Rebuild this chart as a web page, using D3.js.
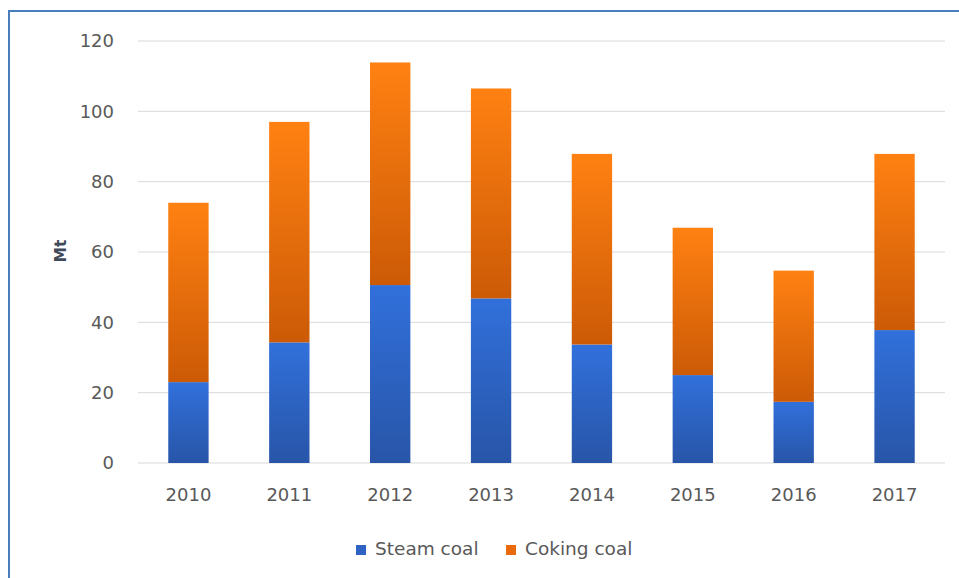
<!DOCTYPE html>
<html><head><meta charset="utf-8">
<script src="https://cdn.jsdelivr.net/npm/d3@7"></script>
<style>body{margin:0;background:#fff;} svg{display:block;}</style>
</head><body>
<svg id="c" width="959" height="578"></svg>
<script>
const years = ["2010","2011","2012","2013","2014","2015","2016","2017"];
const steamCoal = [23, 34.3, 50.6, 46.8, 33.7, 25, 17.4, 37.8];
const cokingCoal = [51, 62.7, 63.3, 59.7, 54.2, 41.9, 37.3, 50.1];
const yTicks = [0, 20, 40, 60, 80, 100, 120];
const seriesNames = ["Steam coal", "Coking coal"];

const svg = d3.select("#c");
const font = "'DejaVu Sans', sans-serif";
// border
svg.append("path").attr("d","M9,578 L9,11 L959,11").attr("fill","none").attr("stroke","#4a7ebb").attr("stroke-width",2);

const defs = svg.append("defs");
const gb = defs.append("linearGradient").attr("id","gBlue").attr("x1",0).attr("y1",0).attr("x2",0).attr("y2",1);
gb.append("stop").attr("offset","0%").attr("stop-color","#3170db");
gb.append("stop").attr("offset","100%").attr("stop-color","#2855a8");
const go = defs.append("linearGradient").attr("id","gOrange").attr("x1",0).attr("y1",0).attr("x2",0).attr("y2",1);
go.append("stop").attr("offset","0%").attr("stop-color","#ff8112");
go.append("stop").attr("offset","100%").attr("stop-color","#cc5a06");

const x = d3.scaleBand().domain(years).range([138, 945]).paddingInner(0.6).paddingOuter(0.3);
const y = d3.scaleLinear().domain([0, 120]).range([463, 41]);

// grid
svg.append("g").selectAll("line").data(yTicks).join("line")
  .attr("x1",138).attr("x2",945).attr("y1",d=>y(d)).attr("y2",d=>y(d))
  .attr("stroke","#d9d9d9").attr("stroke-width",1);

// y axis labels
const ya = svg.append("g").attr("transform","translate(138,0)")
  .call(d3.axisLeft(y).tickValues(yTicks).tickSize(0).tickPadding(24));
ya.select(".domain").remove();
ya.selectAll("text").attr("font-family",font).attr("font-size",18).attr("fill","#595959");

// x axis labels
const xa = svg.append("g").attr("transform","translate(0,463)")
  .call(d3.axisBottom(x).tickSize(0).tickPadding(25));
xa.select(".domain").remove();
xa.selectAll("text").attr("font-family",font).attr("font-size",18).attr("fill","#595959");

// bars
const data = years.map((yr,i)=>({year:yr, steam:steamCoal[i], coking:cokingCoal[i]}));
const stack = d3.stack().keys(["steam","coking"])(data);
const fills = ["url(#gBlue)","url(#gOrange)"];
stack.forEach((s,si)=>{
  svg.append("g").selectAll("rect").data(s).join("rect")
    .attr("x",d=>x(d.data.year)).attr("width",x.bandwidth())
    .attr("y",d=>y(d[1])).attr("height",d=>y(d[0])-y(d[1]))
    .attr("fill",fills[si]);
});

// y title
svg.append("text").attr("transform","translate(66,251) rotate(-90)")
  .attr("text-anchor","middle").attr("font-family",font).attr("font-size",15.5)
  .attr("font-weight","bold").attr("fill","#3f4a5a").text("Mt");

// legend
const leg = [{n:seriesNames[0], c:"#2e63c4", x:356},{n:seriesNames[1], c:"#e86a0c", x:506}];
const lg = svg.append("g");
leg.forEach(l=>{
  lg.append("rect").attr("x",l.x).attr("y",545).attr("width",10).attr("height",10).attr("fill",l.c);
  lg.append("text").attr("x",l.x+19).attr("y",555).attr("font-family",font).attr("font-size",18.5)
    .attr("fill","#595959").text(l.n);
});
</script>
</body></html>
